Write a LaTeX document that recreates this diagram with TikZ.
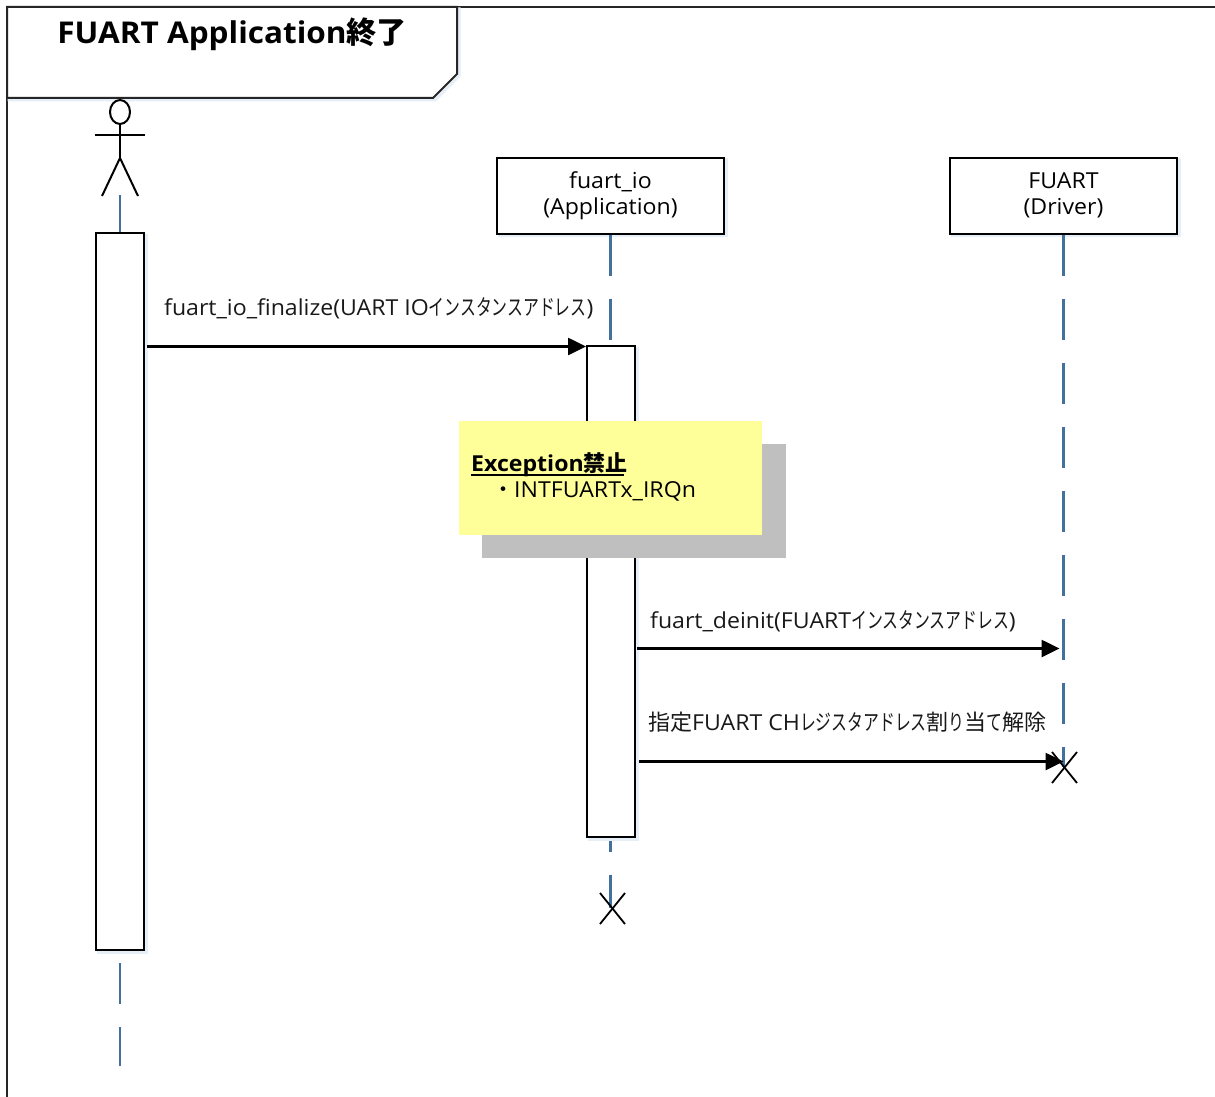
\documentclass[tikz,border=0pt]{standalone}
\usepackage{fontspec}
\setmainfont[FakeStretch=1.05]{Open Sans}
\newfontfamily\cjk{Noto Sans CJK JP}
\newfontfamily\kanafont[FakeStretch=0.72]{Noto Sans CJK JP}
\usetikzlibrary{arrows.meta,calc,shapes.geometric}
\definecolor{life}{HTML}{41719C}
\definecolor{glow}{HTML}{E6EEF7}
\definecolor{notey}{HTML}{FFFF99}
\definecolor{notes}{HTML}{BFBFBF}
\newcommand{\J}[1]{{\cjk #1}}
\newcommand{\K}[1]{{\kanafont #1}}
\tikzset{
 x=1pt,y=-1pt,
 soft/.style={preaction={draw=glow,line width=3pt,transform canvas={xshift=2pt,yshift=-2pt}}},
 boxstyle/.style={draw=black,fill=white,line width=2pt,soft,minimum width=227pt,minimum height=76pt,inner sep=0pt,align=center,font=\fontsize{22}{26}\selectfont},
 actbox/.style={draw=black,fill=white,line width=2pt,soft,minimum width=48pt,inner sep=0pt},
 lifeline/.style={draw=life,line width=2.6pt,dash pattern=on 41pt off 23pt},
 msg/.style={draw=black,line width=2.6pt,-{Triangle[length=18pt,width=17pt]}},
 msglabel/.style={anchor=west,inner sep=0pt,font=\fontsize{22}{26}\selectfont,text=black!90},
 stick/.style={draw=black,line width=2pt},
 cross/.style={draw=black,line width=1.8pt},
}
\begin{document}
\begin{tikzpicture}
\useasboundingbox (0,0) rectangle (1215,1097);
\fill[white] (0,0) rectangle (1215,1097);
% frame
\draw[black!85,line width=2pt] (1215,7) -- (7,7) -- (7,1097);
\draw[draw=black!85,fill=white,line width=2pt,soft] (7,7) -- (457,7) -- (457,74) -- (433,98) -- (7,98) -- cycle;
\node[inner sep=0pt,font=\fontsize{30}{36}\selectfont\bfseries] (title) at (232,34) {FUART Application\J{終了}};
% actor
\node[draw=black,fill=white,line width=2pt,ellipse,minimum width=20pt,minimum height=24pt,inner sep=0pt] (head) at (120,112) {};
\coordinate (armL) at (95,135); \coordinate (armR) at (145,135);
\coordinate (hip) at (120,158); \coordinate (legL) at (102,196); \coordinate (legR) at (138,196);
\draw[stick] (head.south) -- (hip);
\draw[stick] (armL) -- (armR);
\draw[stick] (legL) -- (hip) -- (legR);
% participants
\node[boxstyle] (io) at (610.5,195.5) {\raisebox{-1pt}{fuart\_io}\\\raisebox{-1pt}{(Application)}};
\node[boxstyle] (drv) at (1063.5,195.5) {\raisebox{-1pt}{FUART}\\\raisebox{-1pt}{(Driver)}};
% end points
\coordinate (aTop) at (120,195); \coordinate (aEnd) at (120,1066);
\coordinate (xio) at (612,908); \coordinate (xdrv) at (1064,767);
% lifelines
\draw[lifeline] (aTop) -- (aEnd);
\draw[lifeline] (io.south) -- (io.south |- xio);
\draw[lifeline] (drv.south) -- (drv.south |- xdrv);
% activations
\node[actbox,minimum height=717pt] (aAct) at (120,591.5) {};
\node[actbox,minimum height=491pt] (ioAct) at (611,591.5) {};
% destroy marks
\draw[cross] ($(xio)+(-12,-15)$) -- ($(xio)+(13,16)$);
\draw[cross] ($(xio)+(-12,16)$) -- ($(xio)+(13,-15)$);
\draw[cross] ($(xdrv)+(-12,-15)$) -- ($(xdrv)+(13,16)$);
\draw[cross] ($(xdrv)+(-12,16)$) -- ($(xdrv)+(13,-15)$);
% messages
\coordinate (m1) at (147,346.5); \coordinate (m2) at (637,648.5); \coordinate (m3) at (639,761.5);
\draw[msg] (m1) -- (ioAct.west |- m1);
\draw[msg] (m2) -- ($(drv.south |- m2)+(-4,0)$);
\draw[msg] (m3) -- ($(drv.south |- m3)+(0,0)$);
\node[msglabel] (l1) at (164,308) {fuart\_io\_finalize(UART IO\K{インスタンスアドレス})};
\node[msglabel] (l2) at (650,621) {fuart\_deinit(FUART\K{インスタンスアドレス})};
\node[msglabel] (l3) at (648,722) {\J{指定}FUART CH\K{レジスタアドレス}\J{割}\K{り}\J{当}\K{て}\J{解除}};
% note
\node[fill=notes,minimum width=304pt,minimum height=114pt,inner sep=0pt] (noteS) at (634,501) {};
\node[fill=notey,minimum width=303pt,minimum height=114pt,inner sep=0pt] (note) at (610.5,478) {};
\node[anchor=west,inner sep=0pt,font=\fontsize{22}{26}\selectfont\bfseries] (n1) at (471,465) {Exception\J{禁止}};
\draw[black,line width=2pt] (471,474.5) -- (624,474.5);
\node[anchor=west,inner sep=0pt,font=\fontsize{22}{26}\selectfont] (n2) at (492,491) {\J{・}INTFUARTx\_IRQn};
\end{tikzpicture}
\end{document}
